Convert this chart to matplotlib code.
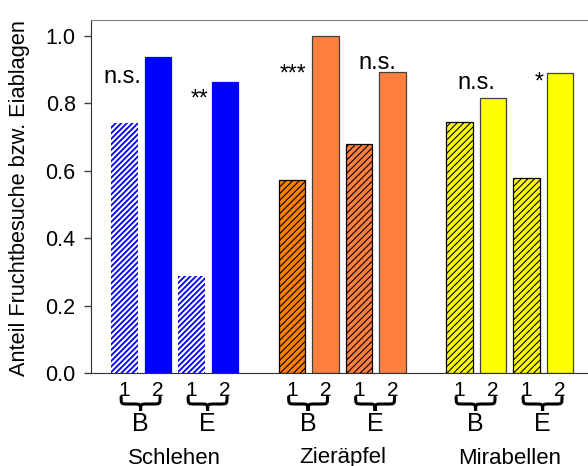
import matplotlib
matplotlib.use('Agg')
import matplotlib.pyplot as plt
import matplotlib.transforms as mtransforms
from matplotlib.path import Path
from matplotlib.patches import PathPatch

plt.rcParams['font.family'] = ['Liberation Sans', 'DejaVu Sans']
plt.rcParams['hatch.linewidth'] = 1.3

# Daten: Anteil Fruchtbesuche bzw. Eiablagen
gruppen = ['Schlehen', 'Zieräpfel', 'Mirabellen']
teil = ['B', 'E']
sub_labels = ['1', '2']
werte_B1 = [0.743, 0.572, 0.746]
werte_B2 = [0.937, 1.000, 0.817]
werte_E1 = [0.288, 0.679, 0.580]
werte_E2 = [0.864, 0.894, 0.889]
signif_B = ['n.s.', '***', 'n.s.']
signif_E = ['**', 'n.s.', '*']

farben_hatch = [['#0000ff', '#0000ff'], ['#ff8000', '#ff7f3f'], ['#ffff00', '#ffff00']]
farben_solid = ['#0000ff', '#ff7f3f', '#ffff00']

# Position der Signifikanz-Beschriftungen (x-Versatz zur Gruppe, y)
sig_pos_B = [(-0.07, 0.861), (0.03, 0.92), (0.49, 0.843)]
sig_pos_E = [(2.24, 0.846), (2.54, 0.902), (2.39, 0.899)]

fig = plt.figure(figsize=(5.88, 4.66), dpi=100)
ax = fig.add_axes([91 / 588, 93 / 466, 502.5 / 588, 353 / 466])

xticks = []
xticklabels = []
for g in range(3):
    basis = g * 5
    werte = [werte_B1[g], werte_B2[g], werte_E1[g], werte_E2[g]]
    for i, w in enumerate(werte):
        x = basis + i
        if i % 2 == 0:
            if g == 0:
                with plt.rc_context({'hatch.linewidth': 1.3}):
                    ax.bar(x, w, width=0.8, color='white', edgecolor='#0000ff',
                           hatch='//////', linewidth=0)
            else:
                with plt.rc_context({'hatch.linewidth': 0.8}):
                    ax.bar(x, w, width=0.8, color=farben_hatch[g][i // 2],
                           edgecolor='black', hatch='/////', linewidth=0.9)
        else:
            ec = '#0000ff' if g == 0 else '#404040'
            ax.bar(x, w, width=0.8, color=farben_solid[g], edgecolor=ec, linewidth=0.9)
        xticks.append(x)
        xticklabels.append(sub_labels[i % 2])

    # Signifikanzen
    for txt, (dx, y) in [(signif_B[g], sig_pos_B[g]), (signif_E[g], sig_pos_E[g])]:
        if txt == 'n.s.':
            ax.text(basis + dx, y, txt, ha='center', va='baseline', fontsize=17)
        else:
            ax.text(basis + dx, y, txt, ha='center', va='top', fontsize=16.5)

ax.set_xlim(-1.0, 14.0)
ax.set_ylim(0, 1.0475)
ax.set_yticks([0, 0.2, 0.4, 0.6, 0.8, 1.0])
ax.set_yticklabels(['0.0', '0.2', '0.4', '0.6', '0.8', '1.0'])
ax.set_xticks(xticks)
ax.set_xticklabels(xticklabels)
ax.tick_params(axis='y', labelsize=15.5, direction='out', length=5, width=1,
               color='#404040', pad=6)
ax.tick_params(axis='x', labelsize=15, length=0, pad=6)

ax.spines['right'].set_visible(False)
ax.spines['top'].set_color('#808080')
ax.spines['left'].set_color('#303030')
ax.spines['bottom'].set_color('#303030')

ax.set_ylabel('Anteil Fruchtbesuche bzw. Eiablagen', fontsize=15.7)
ax.yaxis.set_label_coords(20 / 588, 1 - 198 / 466, transform=fig.transFigure)
ax.yaxis.label.set_va('center')


def klammer(x0, x1, ytop, ybot, trans):
    # geschweifte Klammer, Spitze nach unten
    xm = (x0 + x1) / 2
    ymid = (ytop + ybot) / 2
    q = (x1 - x0) * 0.18
    verts = [(x0, ytop), (x0, ymid), (x0, ymid), (x0 + q, ymid),
             (xm - q, ymid), (xm, ymid), (xm, ymid), (xm, ybot),
             (xm, ymid), (xm, ymid), (xm + q, ymid),
             (x1 - q, ymid), (x1, ymid), (x1, ymid), (x1, ytop)]
    codes = [Path.MOVETO, Path.CURVE4, Path.CURVE4, Path.CURVE4,
             Path.LINETO, Path.CURVE4, Path.CURVE4, Path.CURVE4,
             Path.CURVE4, Path.CURVE4, Path.CURVE4,
             Path.LINETO, Path.CURVE4, Path.CURVE4, Path.CURVE4]
    p = PathPatch(Path(verts, codes), transform=trans, fill=False,
                  lw=2.2, color='black', clip_on=False, capstyle='round')
    ax.add_artist(p)


# Klammern und Beschriftungen unter der Achse
trans = mtransforms.blended_transform_factory(ax.transData, fig.transFigure)
for g in range(3):
    basis = g * 5
    for k in range(2):
        xm = basis + 2 * k + 0.48
        klammer(xm - 0.58, xm + 0.58, 1 - 397 / 466, 1 - 411 / 466, trans)
        ax.text(xm, 1 - 424 / 466, teil[k], ha='center', va='center',
                fontsize=18, transform=trans)
    ax.text(basis + 1.5, 1 - 458 / 466, gruppen[g], ha='center', va='center',
            fontsize=16, transform=trans)

fig.savefig('out.png', dpi=100)
